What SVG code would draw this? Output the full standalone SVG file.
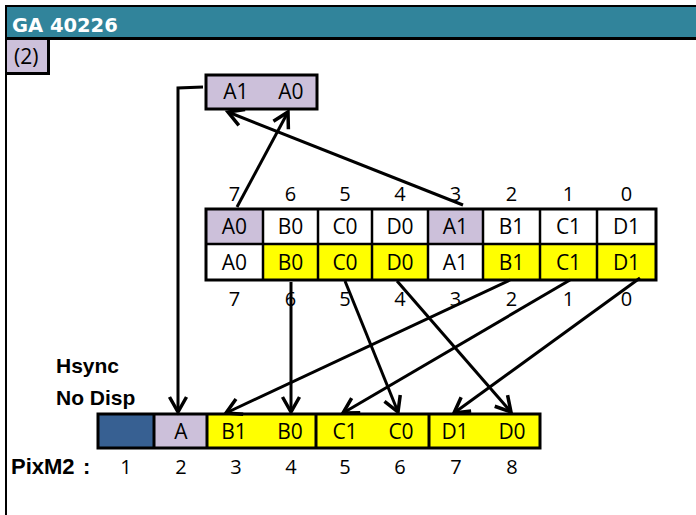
<svg xmlns="http://www.w3.org/2000/svg" width="696" height="515" viewBox="0 0 696 515">
<style>
.cell{font-family:"Open Sans","Liberation Sans",sans-serif;font-size:21px;fill:#000;text-anchor:middle}
.num{font-family:"Open Sans","Liberation Sans",sans-serif;font-size:20px;fill:#000;text-anchor:middle}
.bold{font-family:"Liberation Sans",Arial,sans-serif;font-size:21px;font-weight:bold;fill:#000}
.lav{fill:#CCC0DA}
.yel{fill:#FFFF00}
.wht{fill:#FFFFFF}
.bx{stroke:#000;stroke-width:3}
.div{stroke:#000;stroke-width:2.5}
.conn{stroke:#000;stroke-width:3;fill:none;marker-end:url(#ah)}
</style>
<defs>
<marker id="ah" viewBox="-20 -12 24 24" refX="0" refY="0" markerWidth="24" markerHeight="24" orient="auto" markerUnits="userSpaceOnUse">
<path d="M-15,-8.5 L0,0 L-15,8.5" fill="none" stroke="#000" stroke-width="3.5" stroke-linejoin="miter"/>
</marker>
</defs>
<rect width="696" height="515" fill="#FFFFFF"/>
<g id="header">
<rect x="5" y="5" width="691" height="34" fill="#31849B"/>
<line x1="5" y1="6" x2="696" y2="6" stroke="#000" stroke-width="2"/>
<line x1="5" y1="38.5" x2="696" y2="38.5" stroke="#000" stroke-width="3"/>
<line x1="6" y1="5" x2="6" y2="515" stroke="#000" stroke-width="2"/>
<text x="12" y="32" font-family="'DejaVu Sans',sans-serif" font-size="19.5" font-weight="bold" fill="#FFFFFF">GA 40226</text>
</g>
<g id="tag">
<rect x="7" y="40" width="41" height="33" fill="#CCC0DA"/>
<path d="M48.5,40 V73.5 H6" fill="none" stroke="#000" stroke-width="3"/>
<text x="14" y="64" class="cell" style="text-anchor:start">(2)</text>
</g>
<g id="topbox">
<rect x="206" y="75" width="111" height="34" class="lav bx"/>
<text x="236" y="99" class="cell">A1</text>
<text x="291" y="99" class="cell">A0</text>
</g>
<g id="register">
<rect x="206" y="209" width="57" height="35" class="lav"/>
<rect x="263" y="209" width="165" height="35" class="wht"/>
<rect x="428" y="209" width="55" height="35" class="lav"/>
<rect x="483" y="209" width="173" height="35" class="wht"/>
<rect x="206" y="244" width="57" height="36" class="wht"/>
<rect x="263" y="244" width="165" height="36" class="yel"/>
<rect x="428" y="244" width="55" height="36" class="wht"/>
<rect x="483" y="244" width="173" height="36" class="yel"/>
<g class="div">
<line x1="263" y1="209" x2="263" y2="280"/>
<line x1="318" y1="209" x2="318" y2="280"/>
<line x1="372" y1="209" x2="372" y2="280"/>
<line x1="428" y1="209" x2="428" y2="280"/>
<line x1="483" y1="209" x2="483" y2="280"/>
<line x1="540" y1="209" x2="540" y2="280"/>
<line x1="597" y1="209" x2="597" y2="280"/>
<line x1="206" y1="244" x2="656" y2="244"/>
</g>
<rect x="206" y="209" width="450" height="71" fill="none" class="bx"/>
<text x="234.5" y="234" class="cell">A0</text>
<text x="290.5" y="234" class="cell">B0</text>
<text x="345" y="234" class="cell">C0</text>
<text x="400" y="234" class="cell">D0</text>
<text x="455.5" y="234" class="cell">A1</text>
<text x="511.5" y="234" class="cell">B1</text>
<text x="568.5" y="234" class="cell">C1</text>
<text x="626.5" y="234" class="cell">D1</text>
<text x="234.5" y="270" class="cell">A0</text>
<text x="290.5" y="270" class="cell">B0</text>
<text x="345" y="270" class="cell">C0</text>
<text x="400" y="270" class="cell">D0</text>
<text x="455.5" y="270" class="cell">A1</text>
<text x="511.5" y="270" class="cell">B1</text>
<text x="568.5" y="270" class="cell">C1</text>
<text x="626.5" y="270" class="cell">D1</text>
</g>
<g id="bitnums">
<text x="234.5" y="201" class="num">7</text>
<text x="290.5" y="201" class="num">6</text>
<text x="345" y="201" class="num">5</text>
<text x="400" y="201" class="num">4</text>
<text x="455.5" y="201" class="num">3</text>
<text x="511.5" y="201" class="num">2</text>
<text x="568.5" y="201" class="num">1</text>
<text x="626.5" y="201" class="num">0</text>
<text x="234.5" y="306" class="num">7</text>
<text x="290.5" y="306" class="num">6</text>
<text x="345" y="306" class="num">5</text>
<text x="400" y="306" class="num">4</text>
<text x="455.5" y="306" class="num">3</text>
<text x="511.5" y="306" class="num">2</text>
<text x="568.5" y="306" class="num">1</text>
<text x="626.5" y="306" class="num">0</text>
</g>
<g id="labels">
<text x="56" y="373" class="bold">Hsync</text>
<text x="56" y="405" class="bold">No Disp</text>
<text x="11" y="474" class="bold" style="font-size:22px">PixM2 <tspan x="83">:</tspan></text>
</g>
<g id="pixrow">
<rect x="98" y="414" width="56" height="34" fill="#376092"/>
<rect x="154" y="414" width="53" height="34" class="lav"/>
<rect x="207" y="414" width="333" height="34" class="yel"/>
<g class="bx">
<line x1="154" y1="414" x2="154" y2="448"/>
<line x1="207" y1="414" x2="207" y2="448"/>
<line x1="316" y1="414" x2="316" y2="448"/>
<line x1="429" y1="414" x2="429" y2="448"/>
</g>
<rect x="98" y="414" width="442" height="34" fill="none" class="bx"/>
<text x="181" y="439" class="cell">A</text>
<text x="234" y="439" class="cell">B1</text>
<text x="290" y="439" class="cell">B0</text>
<text x="345" y="439" class="cell">C1</text>
<text x="401" y="439" class="cell">C0</text>
<text x="455" y="439" class="cell">D1</text>
<text x="512" y="439" class="cell">D0</text>
</g>
<g id="pixnums">
<text x="126" y="474" class="num">1</text>
<text x="181" y="474" class="num">2</text>
<text x="236" y="474" class="num">3</text>
<text x="291" y="474" class="num">4</text>
<text x="345" y="474" class="num">5</text>
<text x="400" y="474" class="num">6</text>
<text x="456" y="474" class="num">7</text>
<text x="512" y="474" class="num">8</text>
</g>
<g id="connectors">
<polyline class="conn" points="203,87 178,88 178,412"/>
<line class="conn" x1="237" y1="207" x2="288" y2="112"/>
<line class="conn" x1="463" y1="205" x2="228" y2="112"/>
<line class="conn" x1="291" y1="282" x2="291" y2="412"/>
<line class="conn" x1="345" y1="281" x2="398" y2="412"/>
<line class="conn" x1="397" y1="281" x2="511" y2="412"/>
<line class="conn" x1="510" y1="280" x2="226" y2="413"/>
<line class="conn" x1="570" y1="280" x2="343" y2="413"/>
<line class="conn" x1="640" y1="278" x2="454" y2="413"/>
</g>
</svg>
